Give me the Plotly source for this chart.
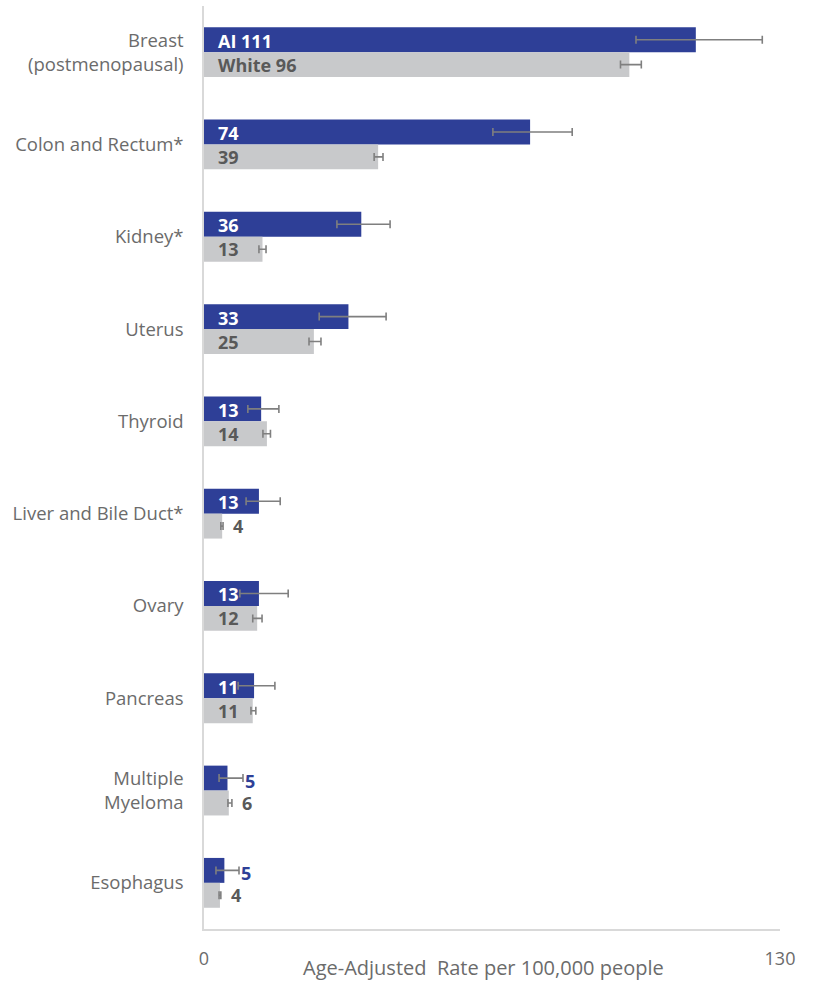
import plotly.graph_objects as go

categories = ["Breast<br>(postmenopausal)", "Colon and Rectum*", "Kidney*", "Uterus",
              "Thyroid", "Liver and Bile Duct*", "Ovary", "Pancreas",
              "Multiple<br>Myeloma", "Esophagus"]
ai_values = [111.0, 73.6, 35.5, 32.6, 12.9, 12.4, 12.4, 11.3, 5.3, 4.6]
ai_lower = [97.5, 65.2, 30.0, 26.0, 9.9, 9.5, 8.1, 7.7, 3.4, 2.7]
ai_upper = [126.0, 83.1, 42.0, 41.1, 16.9, 17.2, 19.0, 16.0, 8.8, 7.9]
white_values = [96.0, 39.3, 13.2, 24.8, 14.2, 4.1, 12.0, 11.0, 5.6, 3.6]
white_lower = [94.0, 38.4, 12.4, 23.7, 13.3, 3.8, 11.0, 10.6, 5.4, 3.4]
white_upper = [98.7, 40.4, 14.0, 26.4, 15.0, 4.3, 13.1, 11.7, 6.3, 3.8]
ai_labels = ["AI 111", "74", "36", "33", "13", "13", "13", "11", "5", "5"]
white_labels = ["White 96", "39", "13", "25", "14", "4", "12", "11", "6", "4"]
ai_inside = [True, True, True, True, True, True, True, True, False, False]
white_inside = [True, True, True, True, True, False, True, True, False, False]
x_ticks = [0, 130]

AI_COLOR = "#2E3F97"
WHITE_COLOR = "#C8C9CB"
TEXT_GREY = "#595959"
AXIS_TEXT = "#6B6B6B"
ERR_GREY = "#7F7F7F"
FONT = "Open Sans"

fig = go.Figure()
fig.add_trace(go.Bar(
    y=categories, x=ai_values, orientation="h", name="AI",
    marker=dict(color=AI_COLOR, line=dict(width=0)),
    error_x=dict(type="data", symmetric=False,
                 array=[u - v for u, v in zip(ai_upper, ai_values)],
                 arrayminus=[v - l for v, l in zip(ai_values, ai_lower)],
                 color=ERR_GREY, thickness=1.6, width=4),
    offsetgroup="ai",
))
fig.add_trace(go.Bar(
    y=categories, x=white_values, orientation="h", name="White",
    marker=dict(color=WHITE_COLOR, line=dict(width=0)),
    error_x=dict(type="data", symmetric=False,
                 array=[u - v for u, v in zip(white_upper, white_values)],
                 arrayminus=[v - l for v, l in zip(white_values, white_lower)],
                 color=ERR_GREY, thickness=1.6, width=4),
    offsetgroup="white",
))

LBL = 18
annotations = []
for i, cat in enumerate(categories):
    if ai_inside[i]:
        annotations.append(dict(x=0, y=cat, text=f"<b>{ai_labels[i]}</b>", xref="x", yref="y",
                                xanchor="left", yanchor="middle", xshift=12, yshift=11.5,
                                showarrow=False, font=dict(color="white", size=LBL, family=FONT)))
    else:
        annotations.append(dict(x=ai_upper[i], y=cat, text=f"<b>{ai_labels[i]}</b>", xref="x", yref="y",
                                xanchor="left", yanchor="middle", xshift=0, yshift=10,
                                showarrow=False, font=dict(color=AI_COLOR, size=LBL, family=FONT)))
    if white_inside[i]:
        annotations.append(dict(x=0, y=cat, text=f"<b>{white_labels[i]}</b>", xref="x", yref="y",
                                xanchor="left", yanchor="middle", xshift=12, yshift=-12.5,
                                showarrow=False, font=dict(color=TEXT_GREY, size=LBL, family=FONT)))
    else:
        annotations.append(dict(x=white_upper[i], y=cat, text=f"<b>{white_labels[i]}</b>", xref="x", yref="y",
                                xanchor="left", yanchor="middle", xshift=8, yshift=-12.5,
                                showarrow=False, font=dict(color=TEXT_GREY, size=LBL, family=FONT)))

annotations.append(dict(x=0.485, y=-0.042, xref="paper", yref="paper",
                        text="Age-Adjusted  Rate per 100,000 people", showarrow=False,
                        xanchor="center", yanchor="middle",
                        font=dict(color=AXIS_TEXT, size=20, family=FONT)))

fig.update_layout(
    width=814, height=981,
    margin=dict(l=204, r=34, t=6, b=52, autoexpand=False),
    paper_bgcolor="white", plot_bgcolor="white",
    barmode="group", bargap=0.46, bargroupgap=0,
    showlegend=False,
    annotations=annotations,
    font=dict(family=FONT, color=AXIS_TEXT),
)
fig.update_xaxes(
    range=[0, 130], tickvals=x_ticks, ticktext=[str(t) for t in x_ticks],
    showgrid=False, zeroline=False, showline=True, linecolor="#D9D9D9", linewidth=1.5,
    ticks="", ticklabelstandoff=13, automargin=False,
    tickfont=dict(size=18, color=AXIS_TEXT, family=FONT),
)
fig.update_yaxes(
    categoryorder="array", categoryarray=categories, autorange="reversed",
    showgrid=False, zeroline=False, showline=True, linecolor="#D9D9D9", linewidth=1.5,
    ticks="", ticklabelstandoff=15, automargin=False,
    tickfont=dict(size=18.5, color=AXIS_TEXT, family=FONT),
)

fig.write_html("out.html", config={"displayModeBar": False},
               post_script="document.body.style.margin='0';document.body.style.overflow='hidden';")
